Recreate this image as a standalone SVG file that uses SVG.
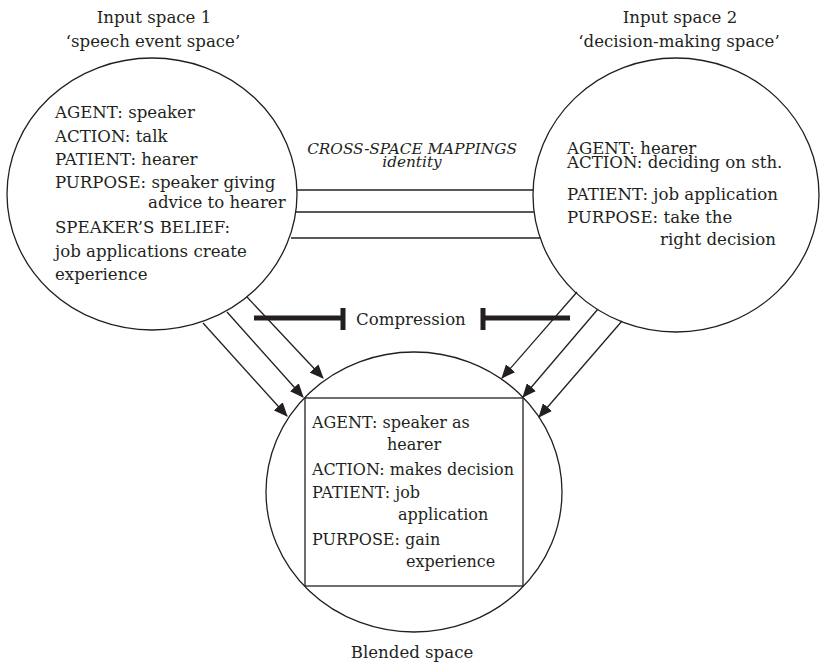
<svg xmlns="http://www.w3.org/2000/svg" width="821" height="664" viewBox="0 0 821 664">
<style>
.t{font-family:"DejaVu Serif","Liberation Serif",serif;font-size:16.6px;fill:#231f20}
.b{font-size:16px}
.c{text-anchor:middle}
.i{font-style:italic;font-size:15.3px}
.sp{fill:#fff;stroke:#231f20;stroke-width:1.3}
.ln{stroke:#231f20;stroke-width:1.3;fill:none}
.bar{stroke:#231f20;stroke-width:5;fill:none}
</style>
<defs>
<marker id="ah" markerWidth="14" markerHeight="12" refX="13" refY="6" orient="auto" markerUnits="userSpaceOnUse">
<path d="M0,0 L14,6 L0,12 Z" fill="#231f20"/>
</marker>
</defs>
<rect width="821" height="664" fill="#fff"/>
<g id="input1">
<ellipse class="sp" cx="152" cy="194" rx="145" ry="136"/>
<text class="t c" x="154" y="23">Input space 1</text>
<text class="t c" x="153" y="47">‘speech event space’</text>
<text class="t" x="55" y="118">AGENT: speaker</text>
<text class="t" x="55" y="142">ACTION: talk</text>
<text class="t" x="55" y="165">PATIENT: hearer</text>
<text class="t" x="55" y="188">PURPOSE: speaker giving</text>
<text class="t" x="148" y="208">advice to hearer</text>
<text class="t" x="55" y="233">SPEAKER’S BELIEF:</text>
<text class="t" x="55" y="257">job applications create</text>
<text class="t" x="55" y="280">experience</text>
</g>
<g id="input2">
<ellipse class="sp" cx="676" cy="195" rx="143" ry="137"/>
<text class="t c" x="680" y="23">Input space 2</text>
<text class="t c" x="679" y="47">‘decision-making space’</text>
<text class="t" x="567" y="154">AGENT: hearer</text>
<text class="t" x="567" y="168">ACTION: deciding on sth.</text>
<text class="t" x="567" y="200">PATIENT: job application</text>
<text class="t" x="567" y="223">PURPOSE: take the</text>
<text class="t" x="660" y="245">right decision</text>
</g>
<g id="blend">
<ellipse class="sp" cx="414" cy="492" rx="148" ry="140"/>
<rect x="305" y="398" width="218" height="188" class="ln"/>
<text class="t b" x="312" y="428">AGENT: speaker as</text>
<text class="t b" x="387" y="450">hearer</text>
<text class="t b" x="312" y="475">ACTION: makes decision</text>
<text class="t b" x="312" y="498">PATIENT: job</text>
<text class="t b" x="398" y="520">application</text>
<text class="t b" x="312" y="545">PURPOSE: gain</text>
<text class="t b" x="406" y="567">experience</text>
<text class="t c" x="412" y="658">Blended space</text>
</g>
<g id="mappings-label">
<text class="t c i" x="412" y="154">CROSS-SPACE MAPPINGS</text>
<text class="t c i" x="412" y="167">identity</text>
</g>
<g id="compression">
<text class="t" x="356" y="325">Compression</text>
</g>
<g id="connectors">
<line class="ln" x1="297" y1="190" x2="533" y2="190"/>
<line class="ln" x1="296" y1="212" x2="534" y2="212"/>
<line class="ln" x1="291" y1="238" x2="541" y2="238"/>
<line class="ln" x1="247" y1="297" x2="323" y2="378" marker-end="url(#ah)"/>
<line class="ln" x1="227" y1="312" x2="303" y2="397" marker-end="url(#ah)"/>
<line class="ln" x1="203" y1="323" x2="287" y2="416" marker-end="url(#ah)"/>
<line class="ln" x1="577" y1="292" x2="502" y2="378" marker-end="url(#ah)"/>
<line class="ln" x1="598" y1="309" x2="523" y2="397" marker-end="url(#ah)"/>
<line class="ln" x1="622" y1="321" x2="539" y2="417" marker-end="url(#ah)"/>
<path class="bar" d="M254,318 H343 M343,308 V330"/>
<path class="bar" d="M570,318 H483 M483,308 V330"/>
</g>
</svg>
